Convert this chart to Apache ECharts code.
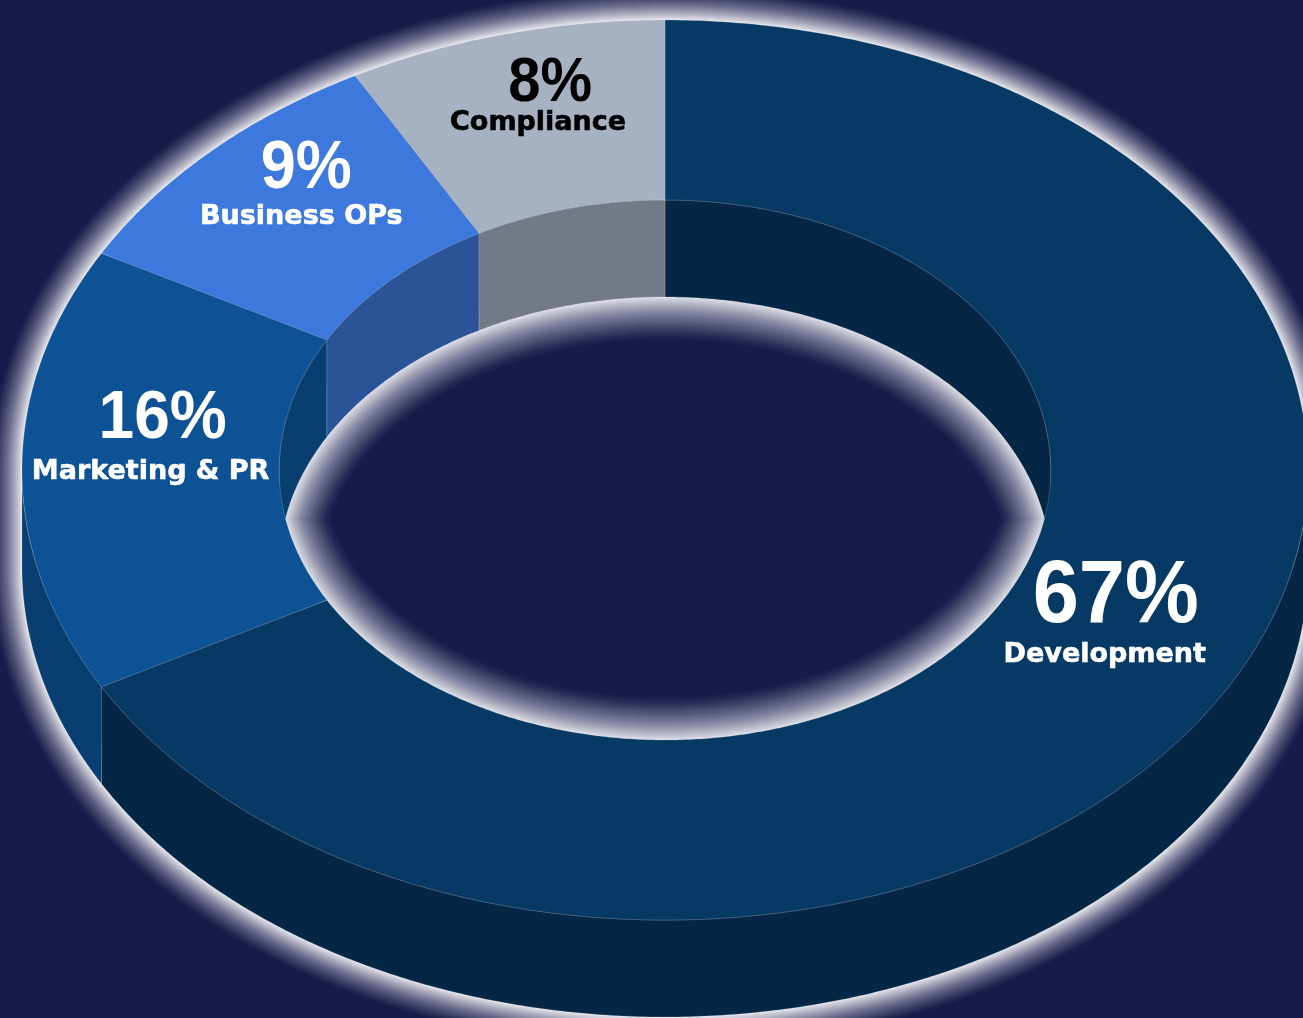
<!DOCTYPE html>
<html>
<head>
<meta charset="utf-8">
<title>Budget split</title>
<script src="https://cdn.jsdelivr.net/npm/echarts@6/dist/echarts.min.js"></script>
<style>
  html, body { margin: 0; padding: 0; background: #181a49; overflow: hidden; }
  #chart { width: 1303px; height: 1018px; }
</style>
</head>
<body>
<div id="chart"></div>
<script>
// Slices, clockwise from twelve o'clock
const categories = ['Development', 'Marketing & PR', 'Business OPs', 'Compliance'];
const values = [67, 16, 9, 8];

// Slice colours
const topColors = ['#063963', '#0d5294', '#3d78dc', '#a6b1c2'];
const sideColors = ['#052745', '#083f70', '#2b5498', '#737a87'];
const labelColors = ['#ffffff', '#ffffff', '#ffffff', '#000000'];

// Label styling, one entry per slice
const percentSizes = [83, 64, 63, 58];
const percentShift = [[8, -56], [12, -51], [5, -46], [13, -38]];
const nameShift = [-3, 0, 0, 1];

// Tilted ring geometry
const CX = 665, CY = 470, RX = 643, RY = 450;
const INNER = 0.6, DEPTH = 97;
const BACKGROUND = '#181a49';

const total = values.reduce((a, b) => a + b, 0);
const startAngle = i => values.slice(0, i).reduce((a, b) => a + b, 0) / total * 360;
const endAngle = i => startAngle(i) + values[i] / total * 360;

function point(deg, scale, drop) {
  const t = deg * Math.PI / 180;
  return [CX + RX * scale * Math.sin(t), CY - RY * scale * Math.cos(t) + drop];
}
function arc(from, to, scale, drop) {
  const steps = Math.max(2, Math.ceil(Math.abs(to - from) * 2));
  const pts = [];
  for (let k = 0; k <= steps; k++) pts.push(point(from + (to - from) * k / steps, scale, drop));
  return pts;
}
const edgeLine = { stroke: 'rgba(255,255,255,0.22)', lineWidth: 0.8 };

// Halo: nested strokes whose accumulated opacity falls off with distance from the edge
function halo(points, reach, peak) {
  const children = [];
  let prev = 0;
  for (let d = reach; d >= 1; d--) {
    const target = peak * Math.pow(1 - (d - 1) / reach, 1.3);
    const alpha = 1 - (1 - target) / (1 - prev);
    prev = target;
    children.push({
      type: 'polygon',
      shape: { points },
      style: { fill: 'none', stroke: 'rgba(238,238,244,' + alpha.toFixed(4) + ')', lineWidth: d * 2, lineJoin: 'round' }
    });
  }
  return children;
}

function renderGlow(params, api) {
  const silhouette = arc(270, 450, 1, 0).concat(arc(90, 270, 1, DEPTH));
  const ry = RY * INNER;
  const corner = Math.acos(DEPTH / (2 * ry)) * 180 / Math.PI;
  const hole = arc(-corner, corner, INNER, DEPTH).concat(arc(180 - corner, 180 + corner, INNER, 0));
  return { type: 'group', children: halo(silhouette, 32, 0.95).concat(halo(hole, 44, 0.93)) };
}

function renderOuterWall(params, api) {
  const i = api.value(1);
  const a = Math.max(startAngle(i), 90), b = Math.min(endAngle(i), 270);
  if (a >= b) return null;
  return {
    type: 'polygon',
    shape: { points: arc(a, b, 1, 0).concat(arc(b, a, 1, DEPTH)) },
    style: Object.assign({ fill: sideColors[i] }, edgeLine)
  };
}

function renderInnerWall(params, api) {
  const i = api.value(1);
  const spans = [[Math.max(startAngle(i), 270), Math.min(endAngle(i), 360)],
                 [Math.max(startAngle(i), 0), Math.min(endAngle(i), 90)]];
  const children = spans.filter(s => s[0] < s[1]).map(s => ({
    type: 'polygon',
    shape: { points: arc(s[0], s[1], INNER, 0).concat(arc(s[1], s[0], INNER, DEPTH)) },
    style: Object.assign({ fill: sideColors[i] }, edgeLine)
  }));
  return { type: 'group', children };
}

function renderTop(params, api) {
  const i = api.value(1);
  const a = startAngle(i), b = endAngle(i);
  return {
    type: 'polygon',
    shape: { points: arc(a, b, 1, 0).concat(arc(b, a, INNER, 0)) },
    style: Object.assign({ fill: topColors[i] }, edgeLine)
  };
}

function renderLabel(params, api) {
  const i = api.value(1);
  const anchor = point((startAngle(i) + endAngle(i)) / 2, (1 + INNER) / 2, 0);
  const shift = percentShift[i];
  return {
    type: 'group',
    children: [{
      type: 'text',
      x: anchor[0] + shift[0],
      y: anchor[1] + shift[1],
      scaleY: 1.08,
      style: {
        text: api.value(0) + '%',
        fill: labelColors[i],
        font: 'bold ' + percentSizes[i] + 'px "Liberation Sans", Arial, sans-serif',
        textAlign: 'center',
        textVerticalAlign: 'middle'
      }
    }, {
      type: 'text',
      x: anchor[0] + nameShift[i],
      y: anchor[1] + 2,
      style: {
        text: categories[i],
        fill: labelColors[i],
        stroke: labelColors[i],
        lineWidth: 0.6,
        font: 'bold 27px "DejaVu Sans", Verdana, sans-serif',
        textAlign: 'center',
        textVerticalAlign: 'middle'
      }
    }]
  };
}

const rows = values.map((v, i) => [v, i]);
const layer = (name, renderItem, z, data) => ({
  type: 'custom',
  name,
  coordinateSystem: 'none',
  renderItem,
  data: data || rows,
  z,
  silent: true,
  animation: false
});

const chart = echarts.init(document.getElementById('chart'), null, { renderer: 'canvas' });
chart.setOption({
  backgroundColor: BACKGROUND,
  animation: false,
  tooltip: { show: false },
  series: [
    layer('glow', renderGlow, 1, [[0, 0]]),
    layer('outer wall', renderOuterWall, 2),
    layer('inner wall', renderInnerWall, 3),
    layer('top', renderTop, 4),
    layer('labels', renderLabel, 5)
  ]
});
</script>
</body>
</html>
